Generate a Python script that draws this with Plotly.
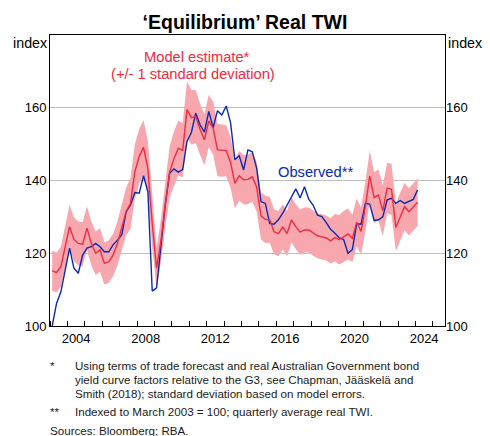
import plotly.graph_objects as go
import pandas as pd

# ---- data (quarterly, March 2003 quarter to March 2024 quarter) ----
quarters = pd.period_range("2003Q1", "2024Q1", freq="Q")

observed = [100, 106.2, 109.4, 115.3, 121.4, 115.9, 114.5, 119.5, 121.4, 121.8,
            122.7, 121.8, 120.4, 120.4, 122.3, 123.6, 125.1, 131.4, 133.3, 136.7,
            136.5, 141.3, 136.9, 109.6, 110.5, 122.0, 133.3, 142.0, 143.2, 142.3,
            143.0, 150.8, 153.2, 158.5, 155.3, 153.3, 159.0, 154.5, 159.2, 158.0,
            160.5, 155.9, 145.7, 146.8, 142.9, 148.4, 147.9, 143.4, 134.2, 133.7,
            128.2, 128.0, 129.2, 131.0, 133.1, 135.5, 137.7, 135.2, 138.3, 134.8,
            133.2, 130.5, 130.1, 128.4, 126.6, 125.5, 124.2, 123.8, 120.0, 121.0,
            128.1, 128.0, 133.7, 133.5, 129.0, 129.2, 130.0, 134.7, 135.1, 133.7,
            134.5, 133.7, 134.2, 134.8, 137.4]

model = [115.2, 114.7, 116.3, 121.8, 127.3, 123.8, 122.7, 122.5, 126.9, 122.7,
         120.0, 120.9, 117.2, 117.7, 119.5, 122.7, 127.3, 131.5, 133.7, 142.4,
         146.6, 149.1, 143.2, 128.2, 115.9, 123.5, 133.5, 142.3, 146.0, 148.9,
         148.3, 159.5, 157.3, 157.6, 154.0, 151.2, 156.4, 154.4, 148.4, 148.2,
         148.2, 145.0, 139.2, 141.3, 140.2, 140.3, 141.0, 138.2, 130.3, 129.3,
         129.2, 125.9, 125.4, 127.2, 125.4, 129.2, 127.3, 125.8, 126.4, 126.4,
         125.5, 124.8, 124.5, 124.2, 123.4, 124.3, 123.7, 124.6, 125.3, 124.1,
         128.5, 126.0, 132.8, 141.2, 135.3, 136.0, 131.7, 137.9, 137.6, 127.1,
         130.1, 132.8, 131.4, 132.8, 134.0]

std_dev = [5.5, 5.5, 5.5, 5.8, 6.0, 6.0, 6.0, 6.0, 6.0, 6.0,
           6.0, 6.0, 5.8, 5.8, 5.8, 6.0, 6.2, 6.5, 7.0, 7.5,
           7.5, 7.5, 7.5, 6.5, 5.5, 6.0, 6.5, 7.0, 7.5, 7.5,
           7.5, 7.8, 7.5, 7.3, 7.0, 7.0, 7.2, 7.2, 7.2, 7.2,
           7.0, 7.0, 6.8, 6.8, 6.8, 6.8, 6.8, 6.8, 6.5, 6.5,
           6.3, 6.2, 6.2, 6.2, 6.2, 6.2, 6.2, 6.2, 6.2, 6.2,
           6.2, 6.2, 6.2, 6.2, 6.2, 6.5, 6.8, 7.0, 7.0, 6.5,
           6.5, 6.5, 6.8, 7.0, 7.0, 7.0, 7.0, 7.0, 7.0, 6.5,
           6.5, 6.5, 6.5, 6.5, 6.5]

year_labels = ["2004", "2008", "2012", "2016", "2020", "2024"]
y_ticks = [100, 120, 140, 160]

# ---- derived ----
x = [q.year + (q.quarter - 0.5) / 4 for q in quarters]
upper = [m + s for m, s in zip(model, std_dev)]
lower = [m - s for m, s in zip(model, std_dev)]

RED = "#EE2C42"
BLUE = "#0A2AB0"
BAND = "#F7A7AD"
FONT = "Arial, Liberation Sans, sans-serif"

fig = go.Figure()
fig.add_trace(go.Scatter(x=x, y=lower, mode="lines", line=dict(width=0),
                         showlegend=False, hoverinfo="skip"))
fig.add_trace(go.Scatter(x=x, y=upper, mode="lines", line=dict(width=0),
                         fill="tonexty", fillcolor=BAND,
                         showlegend=False, hoverinfo="skip"))
fig.add_trace(go.Scatter(x=x, y=observed, mode="lines",
                         line=dict(color=BLUE, width=1.4), showlegend=False))
fig.add_trace(go.Scatter(x=x, y=model, mode="lines",
                         line=dict(color=RED, width=1.4), showlegend=False))
# invisible trace to carry the right-hand axis
fig.add_trace(go.Scatter(x=[x[0]], y=[observed[0]], yaxis="y2", mode="markers",
                         marker=dict(opacity=0), showlegend=False, hoverinfo="skip"))

xr = [2003.0, 2025.7]
yr = [100, 180]

fig.update_layout(
    width=490, height=436,
    margin=dict(l=50, r=45, t=35, b=110),
    paper_bgcolor="white", plot_bgcolor="white",
    font=dict(family=FONT, size=13, color="black"),
    title=dict(text="<b>‘Equilibrium’ Real TWI</b>", x=0.5, xanchor="center",
               y=1 - 22 / 436, yanchor="middle",
               font=dict(family=FONT, size=19.5, color="black")),
    xaxis=dict(range=xr, showgrid=False, zeroline=False,
               tickvals=[int(y) + 0.5 for y in year_labels], ticktext=year_labels,
               ticks="", tickfont=dict(size=13),
               showline=True, mirror=True, linecolor="black", linewidth=1,
               minor=dict(tick0=2003, dtick=1, ticks="inside", ticklen=5,
                          tickcolor="black", tickwidth=1, showgrid=False)),
    yaxis=dict(range=yr, tickvals=y_ticks, showgrid=True, gridcolor="#BEBEBE",
               gridwidth=1, zeroline=False, ticks="", tickfont=dict(size=13),
               showline=True, mirror=True, linecolor="black", linewidth=1),
    yaxis2=dict(range=yr, tickvals=y_ticks, overlaying="y", side="right",
                showgrid=False, zeroline=False, ticks="", tickfont=dict(size=13),
                showline=False),
)

def px(xp):
    return (xp - 50) / 395

def py(yp):
    return (326 - yp) / 291

annots = [
    dict(x=px(30), y=py(43), text="index", font=dict(size=14.3)),
    dict(x=px(465), y=py(43), text="index", font=dict(size=14.3)),
    dict(x=px(197), y=py(57), text="Model estimate*", font=dict(size=14.7, color=RED)),
    dict(x=px(193), y=py(74), text="(+/- 1 standard deviation)", font=dict(size=14.7, color=RED)),
    dict(x=px(315), y=py(172), text="Observed**", font=dict(size=14.7, color=BLUE)),
]
for a in annots:
    fig.add_annotation(xref="paper", yref="paper", showarrow=False,
                       xanchor="center", yanchor="middle", **a)

notes = [
    (48, 365, "*"),
    (73, 365, "Using terms of trade forecast and real Australian Government bond"),
    (73, 379, "yield curve factors relative to the G3, see Chapman, Jääskelä and"),
    (73, 393, "Smith (2018); standard deviation based on model errors."),
    (48, 411, "**"),
    (73, 411, "Indexed to March 2003 = 100; quarterly average real TWI."),
    (48, 430, "Sources: Bloomberg; RBA."),
]
for xp, yp, t in notes:
    fig.add_annotation(xref="paper", yref="paper", x=px(xp), y=py(yp), text=t,
                       showarrow=False, xanchor="left", yanchor="middle", align="left",
                       font=dict(size=11.6, color="#1a1a1a"))

fig.write_html("out.html", post_script="document.body.style.margin='0';",
               config={"displayModeBar": False})
